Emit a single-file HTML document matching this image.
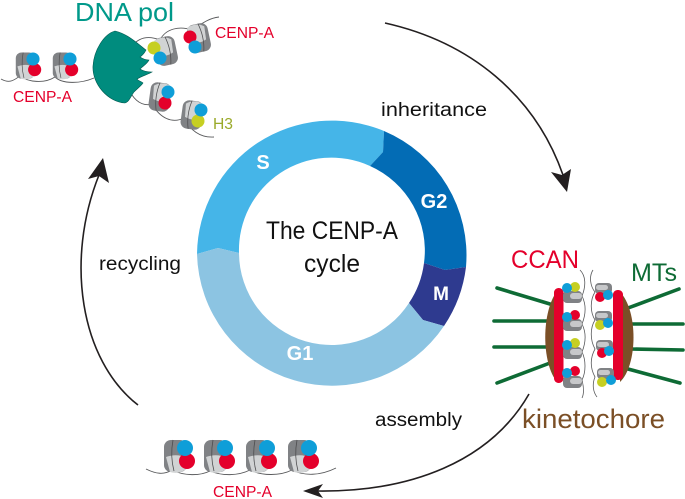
<!DOCTYPE html>
<html><head><meta charset="utf-8">
<style>
html,body{margin:0;padding:0;background:#fff}
svg{display:block}
text{font-family:"Liberation Sans",sans-serif}
</style></head>
<body>
<svg width="685" height="499" viewBox="0 0 685 499" xmlns="http://www.w3.org/2000/svg">
<defs>
  <g id="body">
    <rect x="-21" y="-8" width="23" height="32" rx="7" fill="#808285"/>
    <path d="M-19 9 Q-8 5 2 10 L3 20 Q-6 27 -15 24 Z" fill="#d1d3d4"/>
    <path d="M-12 -8 Q-15 8 -11 23" fill="none" stroke="#4d4d4f" stroke-width=".8"/>
  </g>
  <g id="fb">
    <rect x="-11" y="-15" width="22" height="30" rx="7" fill="#808285"/>
    <path d="M-10 -13 Q0 -17 8 -11 L7 3 Q-2 7 -11 2 Z" fill="#d1d3d4"/>
    <path d="M2 -15 Q6 0 2 15" fill="none" stroke="#4d4d4f" stroke-width=".8"/>
  </g>
  <g id="nbr"><use href="#body"/><circle cx="2" cy="13" r="8" fill="#e4002b"/><circle cx="0" cy="0" r="8" fill="#0f9ed8"/></g>
  <g id="kl">
    <rect x="-4" y="1" width="19" height="12" rx="4" fill="#808285"/>
    <rect x="3" y="3" width="12" height="6" rx="3" fill="#c7c8ca"/>
  </g>
  <g id="kr">
    <rect x="-4" y="-13" width="17" height="11" rx="4" fill="#808285"/>
    <rect x="-3" y="-11" width="12" height="5" rx="2.5" fill="#c7c8ca"/>
  </g>
</defs>

<!-- ring -->
<g>
  <path d="M384 131 L383 152 L370 166 A92.5 92.5 0 0 0 239 253 L218 248 L197 254 A135 135 0 0 1 384 131 Z" fill="#45b5e8"/>
  <path d="M384 131 A135 135 0 0 1 466 267 L445 270 L424 263 A92.5 92.5 0 0 0 370 166 L383 152 Z" fill="#036cb5"/>
  <path d="M466 267 A135 135 0 0 1 444 326 L423 320 L409 303 A92.5 92.5 0 0 0 424 263 L445 270 Z" fill="#2e3a8f"/>
  <path d="M444 326 A135 135 0 0 1 197 254 L218 248 L239 253 A92.5 92.5 0 0 0 409 303 L423 320 Z" fill="#8cc4e2"/>
</g>
<text x="263" y="169" font-size="20" font-weight="bold" fill="#fff" text-anchor="middle">S</text>
<text x="434" y="208" font-size="20" font-weight="bold" fill="#fff" text-anchor="middle">G2</text>
<text x="441" y="300" font-size="19" font-weight="bold" fill="#fff" text-anchor="middle">M</text>
<text x="300" y="360" font-size="20" font-weight="bold" fill="#fff" text-anchor="middle">G1</text>
<text x="266" y="239" font-size="25" fill="#111" textLength="132" lengthAdjust="spacingAndGlyphs">The CENP-A</text>
<text x="304" y="272" font-size="25" fill="#111" textLength="56" lengthAdjust="spacingAndGlyphs">cycle</text>

<!-- arrows -->
<g fill="none" stroke="#231f20" stroke-width="1.6">
  <path d="M385 23 C470 42 535 95 563 175"/>
  <path d="M138 405 C80 360 65 260 99 175"/>
  <path d="M529 394 C490 462 410 492 318 491"/>
</g>
<path d="M567 192 L551 172 L562 175 L571 169 Z" fill="#231f20"/>
<path d="M103 158 L109 183 L99 176 L88 179 Z" fill="#231f20"/>
<path d="M303 491 L323 484 L318 491 L323 498 Z" fill="#231f20"/>
<text x="381" y="116" font-size="19" fill="#111" textLength="106" lengthAdjust="spacingAndGlyphs">inheritance</text>
<text x="99" y="270" font-size="19" fill="#111" textLength="82" lengthAdjust="spacingAndGlyphs">recycling</text>
<text x="375" y="426" font-size="19" fill="#111" textLength="87" lengthAdjust="spacingAndGlyphs">assembly</text>

<!-- DNA pol fork -->
<g fill="none" stroke="#58595b" stroke-width=".9">
  <path d="M1 79 C10 84 14 80 20 76 C28 82 44 84 55 77 C62 84 80 84 94 78"/>
  <path d="M132 46 C140 36 150 36 160 40 C166 28 180 26 192 30 C204 22 210 18 219 17"/>
  <path d="M132 95 C138 104 146 106 152 104 C160 118 172 124 184 118 C190 130 200 138 214 137"/>
</g>
<use href="#nbr" transform="translate(33 59) scale(.82)"/>
<use href="#nbr" transform="translate(70 59) scale(.82)"/>
<use href="#fb" transform="translate(166 51) rotate(-12) scale(.95)"/>
<circle cx="154" cy="48" r="6.5" fill="#c6cf22"/><circle cx="160" cy="58" r="6.5" fill="#0f9ed8"/>
<use href="#fb" transform="translate(199 38) rotate(-12) scale(.95)"/>
<circle cx="190" cy="37" r="6.5" fill="#e4002b"/><circle cx="195" cy="47" r="6.5" fill="#0f9ed8"/>
<use href="#fb" transform="translate(160 97) rotate(8) scale(-.95 .95)"/>
<circle cx="165" cy="103" r="6.5" fill="#e4002b"/><circle cx="168" cy="92" r="6.5" fill="#0f9ed8"/>
<use href="#fb" transform="translate(192 115) rotate(8) scale(-.95 .95)"/>
<circle cx="198" cy="121" r="6.5" fill="#c6cf22"/><circle cx="201" cy="110" r="6.5" fill="#0f9ed8"/>
<path d="M115 31 C104 34 94 50 93 66 C92 84 108 102 125 103 C129 102 131 96 134 92 C138 88 142 85 143 83 C141 81 138 81 137 79 C142 76 149 74 152 72 C148 72 143 71 140 69 C143 66 147 64 149 60 C146 60 143 59 140 57 C143 55 145 52 146 50 C138 44 128 34 115 31 Z" fill="#008c7e" stroke="#00594f" stroke-width=".6"/>
<text x="75" y="21" font-size="26" fill="#00998a" textLength="99" lengthAdjust="spacingAndGlyphs">DNA pol</text>
<text x="215" y="38" font-size="16" fill="#e4002b" textLength="59" lengthAdjust="spacingAndGlyphs">CENP-A</text>
<text x="13" y="102" font-size="16" fill="#e4002b" textLength="59" lengthAdjust="spacingAndGlyphs">CENP-A</text>
<text x="213" y="129" font-size="16" fill="#9aaa2a" textLength="20" lengthAdjust="spacingAndGlyphs">H3</text>

<!-- kinetochore -->
<g stroke="#0e6b35" stroke-width="3.6" stroke-linecap="round" fill="none">
  <path d="M497 288 L550 304"/><path d="M494 321 L548 321"/><path d="M494 347 L548 347"/><path d="M497 383 L550 363"/>
  <path d="M679 289 L628 308"/><path d="M683 324 L630 324"/><path d="M683 350 L630 349"/><path d="M680 383 L628 369"/>
</g>
<path d="M558 290 C541 310 541 365 558 383 Z" fill="#7b4f26"/>
<path d="M620 292 C638 310 638 365 620 382 Z" fill="#7b4f26"/>
<rect x="554" y="288" width="9.5" height="95" rx="4.5" fill="#e4002b"/>
<rect x="613" y="290" width="10" height="90" rx="4.5" fill="#e4002b"/>
<g fill="none" stroke="#58595b" stroke-width=".8">
  <path d="M580 270 C586 276 586 286 582 296 C586 304 586 314 582 324 C586 332 586 342 582 352 C586 360 586 372 582 380 C584 388 584 394 582 398"/>
  <path d="M593 270 C589 276 590 286 595 292 C590 300 590 312 595 320 C590 328 590 340 595 349 C590 358 590 368 595 377 C592 384 593 392 597 397"/>
</g>
<use href="#kl" transform="translate(567 290)"/>
<use href="#kl" transform="translate(567 318)"/>
<use href="#kl" transform="translate(567 346)"/>
<use href="#kl" transform="translate(567 375)"/>
<use href="#kr" transform="translate(599 296)"/>
<use href="#kr" transform="translate(599 324)"/>
<use href="#kr" transform="translate(600 353)"/>
<use href="#kr" transform="translate(601 381)"/>
<circle cx="575" cy="287" r="5" fill="#c6cf22"/><circle cx="567" cy="288" r="5" fill="#0f9ed8"/>
<circle cx="575" cy="315" r="5" fill="#e4002b"/><circle cx="567" cy="317" r="5" fill="#0f9ed8"/>
<circle cx="575" cy="343" r="5" fill="#c6cf22"/><circle cx="567" cy="345" r="5" fill="#0f9ed8"/>
<circle cx="575" cy="371" r="5" fill="#e4002b"/><circle cx="567" cy="373" r="5" fill="#0f9ed8"/>
<circle cx="600" cy="297" r="5" fill="#e4002b"/><circle cx="608" cy="295" r="5" fill="#0f9ed8"/>
<circle cx="600" cy="325" r="5" fill="#c6cf22"/><circle cx="608" cy="323" r="5" fill="#0f9ed8"/>
<circle cx="602" cy="353" r="5" fill="#e4002b"/><circle cx="609" cy="351" r="5" fill="#0f9ed8"/>
<circle cx="602" cy="382" r="5" fill="#c6cf22"/><circle cx="611" cy="380" r="5" fill="#0f9ed8"/>
<text x="511" y="268" font-size="25" fill="#e4002b" textLength="68" lengthAdjust="spacingAndGlyphs">CCAN</text>
<text x="631" y="281" font-size="25" fill="#0e6b35" textLength="46" lengthAdjust="spacingAndGlyphs">MTs</text>
<text x="522" y="428" font-size="27" fill="#7b4f26" textLength="143" lengthAdjust="spacingAndGlyphs">kinetochore</text>

<!-- bottom chromatin -->
<path d="M146 469 C156 474 164 475 172 470 C184 476 200 476 210 471 C222 476 238 476 250 470 C262 476 280 476 292 470 C304 476 320 476 336 468" fill="none" stroke="#58595b" stroke-width=".9"/>
<use href="#nbr" transform="translate(185 448)"/>
<use href="#nbr" transform="translate(225 448)"/>
<use href="#nbr" transform="translate(267 448)"/>
<use href="#nbr" transform="translate(309 448)"/>
<text x="213" y="497" font-size="16" fill="#e4002b" textLength="59" lengthAdjust="spacingAndGlyphs">CENP-A</text>
</svg>
</body></html>
